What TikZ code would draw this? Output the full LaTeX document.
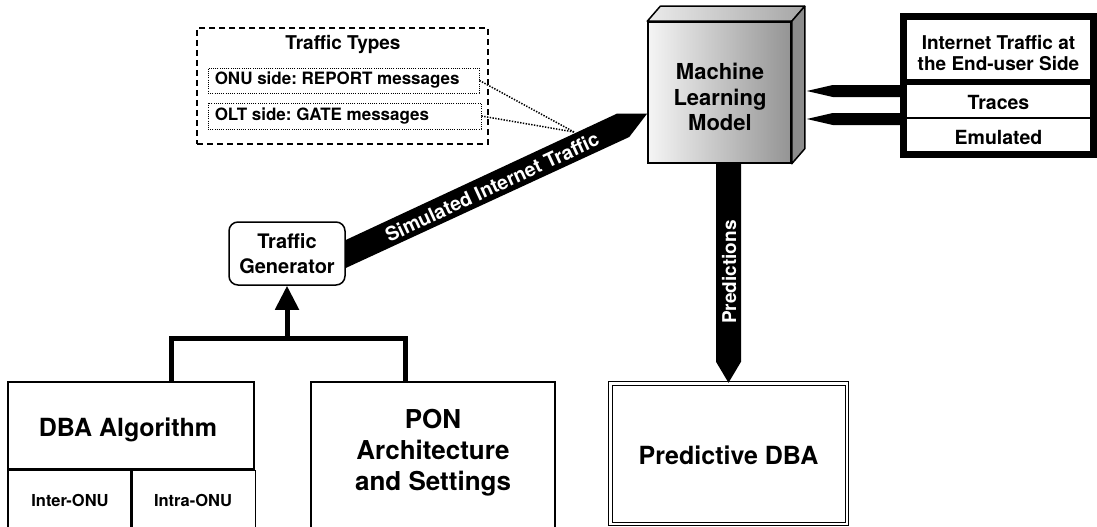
\documentclass[tikz,border=0pt]{standalone}
\usepackage{fontspec}
\setmainfont{TeX Gyre Heros}
\usetikzlibrary{calc,arrows.meta}
\newcommand\fsz[2]{\fontsize{#1}{#2}\selectfont}
\tikzset{
  txt/.style={inner sep=0pt, align=center},
  box/.style={draw, line width=1.5pt},
  dashedbox/.style={draw, line width=1.5pt, dash pattern=on 6pt off 4pt},
  dotbox/.style={draw, line width=0.9pt, dash pattern=on 1pt off 1.2pt,
    inner sep=0pt, minimum height=25pt},
  dottxt/.style={inner sep=0pt, anchor=west, font=\bfseries\fsz{17}{20}},
  dotline/.style={line width=1.5pt, dash pattern=on 1.4pt off 1.4pt},
}
\begin{document}
\begin{tikzpicture}[x=1pt,y=-1pt]
\frenchspacing
\useasboundingbox (0,0) rectangle (1097,527);
\clip (0,0) rectangle (1097,527);

% ---- traffic types ----
\node[dashedbox, minimum width=291pt, minimum height=116pt] (tt) at (342.5,86) {};
\node[txt, font=\bfseries\fsz{19}{22}] (ttitle) at (343,45) {Traffic Types};
\node[dotbox, minimum width=271pt] (onu) at (343.5,80.5) {};
\node[dotbox, minimum width=273pt, minimum height=26pt] (olt) at (344.5,116) {};
\node[dottxt] (onutext) at ($(onu.west)+(7,0)$) {ONU side: REPORT messages};
\node[dottxt] (olttext) at ($(olt.west)+(7,0)$) {OLT side: GATE messages};

% ---- bottom boxes ----
\node[box, minimum width=246pt, minimum height=87pt] (dba) at (131,425.5) {};
\node[txt, font=\bfseries\fsz{25}{28}] (dbatext) at (128,430) {DBA Algorithm};
\node[box, minimum width=123pt, minimum height=63pt, anchor=north west] (inter) at (dba.south west) {};
\node[box, minimum width=123pt, minimum height=63pt, anchor=north west] (intra) at (inter.north east) {};
\node[txt, font=\bfseries\fsz{16.5}{19}] (intertext) at (70,500) {Inter-ONU};
\node[txt, font=\bfseries\fsz{16.5}{19}] (intratext) at (193,500) {Intra-ONU};

\node[box, minimum width=244pt, minimum height=150pt] (pon) at (433,457) {};
\node[txt, font=\bfseries\fsz{26}{31}] (pontext) at (433,453) {PON\\Architecture\\and Settings};

\node[draw, line width=1pt, double=white, double distance=2.5pt,
      minimum width=236.5pt, minimum height=140.5pt] (pdba) at (728.5,453.5) {};
\node[txt, font=\bfseries\fsz{25}{28}] (pdbatext) at (728.5,455) {Predictive DBA};

% ---- traffic generator ----
\node[box, rounded corners=9pt, minimum width=116pt, minimum height=63pt] (tg) at (287,253.5) {};
\node[txt, font=\bfseries\fsz{20}{25}] (tgtext) at (287,254) {Traffic\\Generator};

% ---- bracket joining the two inputs ----
\coordinate (barL) at (171,338);
\coordinate (barR) at (405,338);
\draw[line width=5pt, line join=miter] (barL |- dba.north) -- (barL) -- (barR) -- (barR |- pon.north);
\draw[line width=5pt, -{Triangle[width=23pt,length=24pt]}] (tg.south |- barL) -- (tg.south);

% ---- machine learning model (3D block) ----
\node[draw, line width=1.5pt, minimum width=143pt, minimum height=141pt,
      left color=black!4, right color=black!42] (ml) at (719.5,92.5) {};
\filldraw[line width=1.5pt, line join=round, left color=black!8, right color=black!35]
  (ml.north west) -- ++(13,-15) -- ($(ml.north east)+(13,-15)$) -- (ml.north east) -- cycle;
\filldraw[line width=1.5pt, line join=round, fill=black!45]
  (ml.north east) -- ++(13,-15) -- ($(ml.south east)+(13,-15)$) -- (ml.south east) -- cycle;
\node[txt, font=\bfseries\fsz{22}{25.5}] (mltext) at (720,97) {Machine\\Learning\\Model};

% ---- fat arrows into the model (drawn under the source box border) ----
\node[minimum width=190pt, minimum height=138pt, inner sep=0pt] (srcarea) at (998.5,85.5) {};
\coordinate (a1tip) at ($(ml.east)+(15,-1.5)$);
\coordinate (a1tail) at (a1tip -| srcarea.west);
\fill ($(a1tail)+(0,-6)$) -- ($(a1tip)+(26,-6)$) -- (a1tip) -- ($(a1tip)+(26,6)$) -- ($(a1tail)+(0,6)$) -- cycle;
\coordinate (a2tip) at ($(ml.east)+(15,26.5)$);
\coordinate (a2tail) at (a2tip -| srcarea.west);
\fill ($(a2tail)+(0,-6)$) -- ($(a2tip)+(26,-6)$) -- (a2tip) -- ($(a2tip)+(26,6)$) -- ($(a2tail)+(0,6)$) -- cycle;

% ---- end-user traffic source ----
\node[draw, fill=white, line width=7pt, minimum width=190pt, minimum height=138pt] (src) at (998.5,85.5) {};
\coordinate (d1) at (903.5,82);
\coordinate (d2) at (903.5,118);
\draw[line width=6pt] (d1) -- (d1 -| src.east);
\draw[line width=1.5pt] (d2) -- (d2 -| src.east);
\node[txt, font=\bfseries\fsz{19}{21}] (srctitle) at (998.5,53) {Internet Traffic at\\the End-user Side};
\node[txt, font=\bfseries\fsz{19.5}{23}] (traces) at (998.5,102) {Traces};
\node[txt, font=\bfseries\fsz{19.5}{23}] (emul) at (998.5,137) {Emulated};

% ---- links from traffic types to the simulated traffic ----
\coordinate (conv) at (574,132);
\draw[dotline] (onu.east) -- (conv);
\draw[dotline] (olt.east) -- (conv);

% ---- simulated internet traffic ----
\coordinate (simtip) at ($(ml.west)+(0,21)$);
\fill ($(tg.east)+(0,-13.5)$) -- ($(simtip)+(-30,0)$) -- (simtip) -- ($(simtip)+(-18,23.5)$) -- ($(tg.east)+(0,14.5)$) -- cycle;
\node[txt, white, rotate=24.9, font=\bfseries\fsz{19.5}{22}] (simlbl) at (492,187) {Simulated Internet Traffic};

% ---- predictions ----
\coordinate (ptop) at (ml.south -| pdba.north);
\fill ($(ptop)+(-12.5,0)$) -- ($(pdba.north)+(-12.5,-21)$) -- (pdba.north) -- ($(pdba.north)+(12.5,-21)$) -- ($(ptop)+(12.5,0)$) -- cycle;
\node[txt, white, rotate=90, font=\bfseries\fsz{19}{22}] (predlbl) at (729,272) {Predictions};

\end{tikzpicture}
\end{document}
